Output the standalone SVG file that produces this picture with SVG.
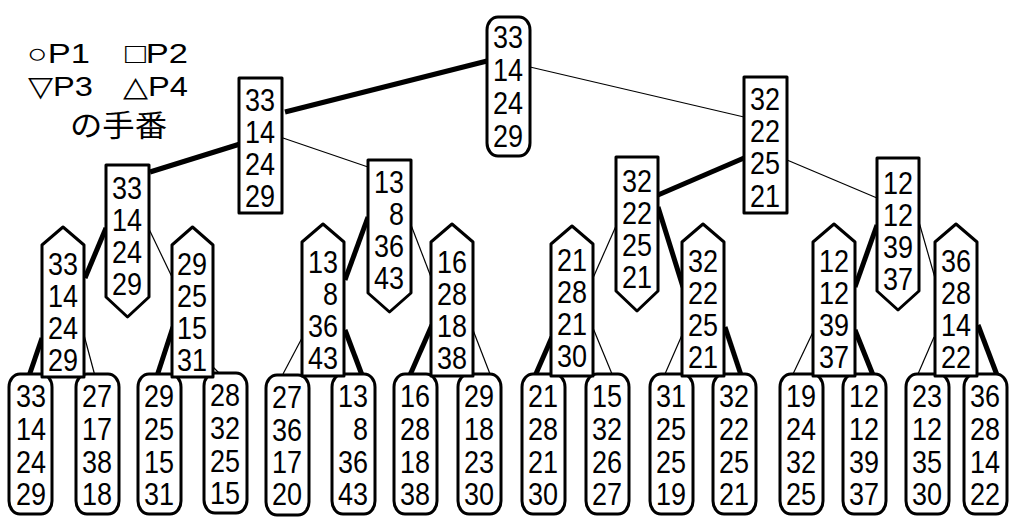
<svg xmlns="http://www.w3.org/2000/svg" width="1011" height="529" viewBox="0 0 1011 529">
<style>
.n{fill:#fff;stroke:#000;stroke-width:3;stroke-linejoin:round}
.t{font-family:"Liberation Sans","Noto Sans CJK JP",sans-serif;font-size:31px;fill:#000;text-anchor:end}
.lg{font-family:"Liberation Sans","DejaVu Sans","Noto Sans CJK JP",sans-serif;font-size:28px;fill:#000}
.thick{stroke:#000;stroke-width:5;fill:none}
.thin{stroke:#000;stroke-width:1.2;fill:none}
</style>
<rect width="1011" height="529" fill="#fff"/>
<g id="legend">
<text class="lg" x="27" y="63" textLength="63" lengthAdjust="spacingAndGlyphs">○P1</text>
<text class="lg" x="125" y="63" textLength="63" lengthAdjust="spacingAndGlyphs">□P2</text>
<text class="lg" x="28" y="96" textLength="65" lengthAdjust="spacingAndGlyphs">▽P3</text>
<text class="lg" x="123" y="96" textLength="65" lengthAdjust="spacingAndGlyphs">△P4</text>
<text class="lg" x="70" y="136" textLength="97" lengthAdjust="spacingAndGlyphs" style="font-size:30px">の手番</text>
</g>
<g id="connectors">
<line class="thick" x1="285" y1="112" x2="487" y2="61"/>
<line class="thick" x1="240" y1="144" x2="150" y2="172"/>
<line class="thick" x1="744" y1="158" x2="658" y2="195"/>
<line class="thick" x1="106" y1="228" x2="85" y2="278"/>
<line class="thick" x1="368" y1="217" x2="345" y2="280"/>
<line class="thick" x1="658" y1="207" x2="683" y2="287"/>
<line class="thick" x1="877" y1="225" x2="855" y2="287"/>
<line class="thick" x1="42" y1="338" x2="29" y2="376"/>
<line class="thick" x1="173" y1="327" x2="157" y2="376"/>
<line class="thick" x1="345" y1="330" x2="362" y2="375"/>
<line class="thick" x1="432" y1="325" x2="410" y2="375"/>
<line class="thick" x1="552" y1="337" x2="535" y2="376"/>
<line class="thick" x1="725" y1="327" x2="741" y2="375"/>
<line class="thick" x1="855" y1="330" x2="873" y2="375"/>
<line class="thick" x1="978" y1="325" x2="997" y2="375"/>
<line class="thin" x1="530" y1="67" x2="744" y2="117"/>
<line class="thin" x1="283" y1="138" x2="368" y2="167"/>
<line class="thin" x1="787" y1="160" x2="877" y2="198"/>
<line class="thin" x1="148" y1="227" x2="172" y2="277"/>
<line class="thin" x1="411" y1="225" x2="431" y2="277"/>
<line class="thin" x1="616" y1="226" x2="593" y2="278"/>
<line class="thin" x1="919" y1="222" x2="935" y2="278"/>
<line class="thin" x1="84" y1="335" x2="95" y2="376"/>
<line class="thin" x1="212" y1="366" x2="222" y2="376"/>
<line class="thin" x1="302" y1="338" x2="283" y2="374"/>
<line class="thin" x1="473" y1="330" x2="490" y2="374"/>
<line class="thin" x1="593" y1="328" x2="612" y2="374"/>
<line class="thin" x1="682" y1="335" x2="665" y2="374"/>
<line class="thin" x1="813" y1="332" x2="793" y2="374"/>
<line class="thin" x1="934" y1="337" x2="918" y2="374"/>
</g>
<g id="root">
<rect class="n" x="487" y="17" width="43" height="139" rx="11" ry="13"/>
<text class="t" x="523" y="48" textLength="30" lengthAdjust="spacingAndGlyphs">33</text>
<text class="t" x="523" y="81" textLength="30" lengthAdjust="spacingAndGlyphs">14</text>
<text class="t" x="523" y="114" textLength="30" lengthAdjust="spacingAndGlyphs">24</text>
<text class="t" x="523" y="147" textLength="30" lengthAdjust="spacingAndGlyphs">29</text>
</g>
<g id="n1L">
<rect class="n" x="239" y="78" width="43" height="135"/>
<text class="t" x="275" y="111" textLength="30" lengthAdjust="spacingAndGlyphs">33</text>
<text class="t" x="275" y="143" textLength="30" lengthAdjust="spacingAndGlyphs">14</text>
<text class="t" x="275" y="175" textLength="30" lengthAdjust="spacingAndGlyphs">24</text>
<text class="t" x="275" y="207" textLength="30" lengthAdjust="spacingAndGlyphs">29</text>
</g>
<g id="n1R">
<rect class="n" x="744" y="77" width="43" height="136"/>
<text class="t" x="780" y="110" textLength="30" lengthAdjust="spacingAndGlyphs">32</text>
<text class="t" x="780" y="142" textLength="30" lengthAdjust="spacingAndGlyphs">22</text>
<text class="t" x="780" y="174" textLength="30" lengthAdjust="spacingAndGlyphs">25</text>
<text class="t" x="780" y="207" textLength="30" lengthAdjust="spacingAndGlyphs">21</text>
</g>
<g id="n2A">
<polygon class="n" points="106,165 149,165 149,297 127.5,317 106,297"/>
<text class="t" x="142" y="199" textLength="30" lengthAdjust="spacingAndGlyphs">33</text>
<text class="t" x="142" y="231" textLength="30" lengthAdjust="spacingAndGlyphs">14</text>
<text class="t" x="142" y="263" textLength="30" lengthAdjust="spacingAndGlyphs">24</text>
<text class="t" x="142" y="295" textLength="30" lengthAdjust="spacingAndGlyphs">29</text>
</g>
<g id="n2B">
<polygon class="n" points="368,160 411,160 411,293 389.5,312 368,293"/>
<text class="t" x="404" y="193" textLength="30" lengthAdjust="spacingAndGlyphs">13</text>
<text class="t" x="404" y="225" textLength="15" lengthAdjust="spacingAndGlyphs">8</text>
<text class="t" x="404" y="257" textLength="30" lengthAdjust="spacingAndGlyphs">36</text>
<text class="t" x="404" y="289" textLength="30" lengthAdjust="spacingAndGlyphs">43</text>
</g>
<g id="n2C">
<polygon class="n" points="616,157 658,157 658,291 637,311 616,291"/>
<text class="t" x="652" y="192" textLength="30" lengthAdjust="spacingAndGlyphs">32</text>
<text class="t" x="652" y="224" textLength="30" lengthAdjust="spacingAndGlyphs">22</text>
<text class="t" x="652" y="256" textLength="30" lengthAdjust="spacingAndGlyphs">25</text>
<text class="t" x="652" y="288" textLength="30" lengthAdjust="spacingAndGlyphs">21</text>
</g>
<g id="n2D">
<polygon class="n" points="877,158 919,158 919,291 898,310 877,291"/>
<text class="t" x="913" y="194" textLength="30" lengthAdjust="spacingAndGlyphs">12</text>
<text class="t" x="913" y="226" textLength="30" lengthAdjust="spacingAndGlyphs">12</text>
<text class="t" x="913" y="258" textLength="30" lengthAdjust="spacingAndGlyphs">39</text>
<text class="t" x="913" y="290" textLength="30" lengthAdjust="spacingAndGlyphs">37</text>
</g>
<g id="leaves">
<g id="leaf1"><rect class="n" x="9" y="374" width="43" height="140" rx="11" ry="13"/>
<text class="t" x="46" y="407" textLength="30" lengthAdjust="spacingAndGlyphs">33</text><text class="t" x="46" y="440" textLength="30" lengthAdjust="spacingAndGlyphs">14</text><text class="t" x="46" y="473" textLength="30" lengthAdjust="spacingAndGlyphs">24</text><text class="t" x="46" y="505" textLength="30" lengthAdjust="spacingAndGlyphs">29</text></g>
<g id="leaf2"><rect class="n" x="76" y="374" width="43" height="140" rx="11" ry="13"/>
<text class="t" x="112" y="407" textLength="30" lengthAdjust="spacingAndGlyphs">27</text><text class="t" x="112" y="440" textLength="30" lengthAdjust="spacingAndGlyphs">17</text><text class="t" x="112" y="473" textLength="30" lengthAdjust="spacingAndGlyphs">38</text><text class="t" x="112" y="505" textLength="30" lengthAdjust="spacingAndGlyphs">18</text></g>
<g id="leaf3"><rect class="n" x="138" y="374" width="43" height="140" rx="11" ry="13"/>
<text class="t" x="174" y="407" textLength="30" lengthAdjust="spacingAndGlyphs">29</text><text class="t" x="174" y="440" textLength="30" lengthAdjust="spacingAndGlyphs">25</text><text class="t" x="174" y="473" textLength="30" lengthAdjust="spacingAndGlyphs">15</text><text class="t" x="174" y="505" textLength="30" lengthAdjust="spacingAndGlyphs">31</text></g>
<g id="leaf4"><rect class="n" x="204" y="373" width="43" height="140" rx="11" ry="13"/>
<text class="t" x="240" y="406" textLength="30" lengthAdjust="spacingAndGlyphs">28</text><text class="t" x="240" y="439" textLength="30" lengthAdjust="spacingAndGlyphs">32</text><text class="t" x="240" y="472" textLength="30" lengthAdjust="spacingAndGlyphs">25</text><text class="t" x="240" y="504" textLength="30" lengthAdjust="spacingAndGlyphs">15</text></g>
<g id="leaf5"><rect class="n" x="266" y="375" width="43" height="140" rx="11" ry="13"/>
<text class="t" x="302" y="408" textLength="30" lengthAdjust="spacingAndGlyphs">27</text><text class="t" x="302" y="441" textLength="30" lengthAdjust="spacingAndGlyphs">36</text><text class="t" x="302" y="473" textLength="30" lengthAdjust="spacingAndGlyphs">17</text><text class="t" x="302" y="505" textLength="30" lengthAdjust="spacingAndGlyphs">20</text></g>
<g id="leaf6"><rect class="n" x="332" y="374" width="43" height="140" rx="11" ry="13"/>
<text class="t" x="368" y="407" textLength="30" lengthAdjust="spacingAndGlyphs">13</text><text class="t" x="368" y="440" textLength="15" lengthAdjust="spacingAndGlyphs">8</text><text class="t" x="368" y="473" textLength="30" lengthAdjust="spacingAndGlyphs">36</text><text class="t" x="368" y="505" textLength="30" lengthAdjust="spacingAndGlyphs">43</text></g>
<g id="leaf7"><rect class="n" x="394" y="374" width="43" height="140" rx="11" ry="13"/>
<text class="t" x="430" y="407" textLength="30" lengthAdjust="spacingAndGlyphs">16</text><text class="t" x="430" y="440" textLength="30" lengthAdjust="spacingAndGlyphs">28</text><text class="t" x="430" y="473" textLength="30" lengthAdjust="spacingAndGlyphs">18</text><text class="t" x="430" y="505" textLength="30" lengthAdjust="spacingAndGlyphs">38</text></g>
<g id="leaf8"><rect class="n" x="458" y="374" width="43" height="140" rx="11" ry="13"/>
<text class="t" x="494" y="407" textLength="30" lengthAdjust="spacingAndGlyphs">29</text><text class="t" x="494" y="440" textLength="30" lengthAdjust="spacingAndGlyphs">18</text><text class="t" x="494" y="473" textLength="30" lengthAdjust="spacingAndGlyphs">23</text><text class="t" x="494" y="505" textLength="30" lengthAdjust="spacingAndGlyphs">30</text></g>
<g id="leaf9"><rect class="n" x="522" y="374" width="43" height="140" rx="11" ry="13"/>
<text class="t" x="558" y="407" textLength="30" lengthAdjust="spacingAndGlyphs">21</text><text class="t" x="558" y="440" textLength="30" lengthAdjust="spacingAndGlyphs">28</text><text class="t" x="558" y="473" textLength="30" lengthAdjust="spacingAndGlyphs">21</text><text class="t" x="558" y="505" textLength="30" lengthAdjust="spacingAndGlyphs">30</text></g>
<g id="leaf10"><rect class="n" x="586" y="374" width="43" height="140" rx="11" ry="13"/>
<text class="t" x="622" y="407" textLength="30" lengthAdjust="spacingAndGlyphs">15</text><text class="t" x="622" y="440" textLength="30" lengthAdjust="spacingAndGlyphs">32</text><text class="t" x="622" y="473" textLength="30" lengthAdjust="spacingAndGlyphs">26</text><text class="t" x="622" y="505" textLength="30" lengthAdjust="spacingAndGlyphs">27</text></g>
<g id="leaf11"><rect class="n" x="650" y="374" width="43" height="140" rx="11" ry="13"/>
<text class="t" x="686" y="407" textLength="30" lengthAdjust="spacingAndGlyphs">31</text><text class="t" x="686" y="440" textLength="30" lengthAdjust="spacingAndGlyphs">25</text><text class="t" x="686" y="473" textLength="30" lengthAdjust="spacingAndGlyphs">25</text><text class="t" x="686" y="505" textLength="30" lengthAdjust="spacingAndGlyphs">19</text></g>
<g id="leaf12"><rect class="n" x="713" y="374" width="43" height="140" rx="11" ry="13"/>
<text class="t" x="749" y="407" textLength="30" lengthAdjust="spacingAndGlyphs">32</text><text class="t" x="749" y="440" textLength="30" lengthAdjust="spacingAndGlyphs">22</text><text class="t" x="749" y="473" textLength="30" lengthAdjust="spacingAndGlyphs">25</text><text class="t" x="749" y="505" textLength="30" lengthAdjust="spacingAndGlyphs">21</text></g>
<g id="leaf13"><rect class="n" x="780" y="374" width="43" height="140" rx="11" ry="13"/>
<text class="t" x="816" y="407" textLength="30" lengthAdjust="spacingAndGlyphs">19</text><text class="t" x="816" y="440" textLength="30" lengthAdjust="spacingAndGlyphs">24</text><text class="t" x="816" y="473" textLength="30" lengthAdjust="spacingAndGlyphs">32</text><text class="t" x="816" y="505" textLength="30" lengthAdjust="spacingAndGlyphs">25</text></g>
<g id="leaf14"><rect class="n" x="843" y="374" width="43" height="140" rx="11" ry="13"/>
<text class="t" x="879" y="407" textLength="30" lengthAdjust="spacingAndGlyphs">12</text><text class="t" x="879" y="440" textLength="30" lengthAdjust="spacingAndGlyphs">12</text><text class="t" x="879" y="473" textLength="30" lengthAdjust="spacingAndGlyphs">39</text><text class="t" x="879" y="505" textLength="30" lengthAdjust="spacingAndGlyphs">37</text></g>
<g id="leaf15"><rect class="n" x="906" y="374" width="43" height="140" rx="11" ry="13"/>
<text class="t" x="942" y="407" textLength="30" lengthAdjust="spacingAndGlyphs">23</text><text class="t" x="942" y="440" textLength="30" lengthAdjust="spacingAndGlyphs">12</text><text class="t" x="942" y="473" textLength="30" lengthAdjust="spacingAndGlyphs">35</text><text class="t" x="942" y="505" textLength="30" lengthAdjust="spacingAndGlyphs">30</text></g>
<g id="leaf16"><rect class="n" x="964" y="374" width="43" height="140" rx="11" ry="13"/>
<text class="t" x="1000" y="407" textLength="30" lengthAdjust="spacingAndGlyphs">36</text><text class="t" x="1000" y="440" textLength="30" lengthAdjust="spacingAndGlyphs">28</text><text class="t" x="1000" y="473" textLength="30" lengthAdjust="spacingAndGlyphs">14</text><text class="t" x="1000" y="505" textLength="30" lengthAdjust="spacingAndGlyphs">22</text></g>
</g>
<g id="n3E">
<polygon class="n" points="42,377 42,245 63,227 84,245 84,377"/>
<text class="t" x="78" y="275" textLength="30" lengthAdjust="spacingAndGlyphs">33</text>
<text class="t" x="78" y="307" textLength="30" lengthAdjust="spacingAndGlyphs">14</text>
<text class="t" x="78" y="339" textLength="30" lengthAdjust="spacingAndGlyphs">24</text>
<text class="t" x="78" y="371" textLength="30" lengthAdjust="spacingAndGlyphs">29</text>
</g>
<g id="n3F">
<polygon class="n" points="172,377 172,245 192.5,227 213,245 213,377"/>
<text class="t" x="207" y="275" textLength="30" lengthAdjust="spacingAndGlyphs">29</text>
<text class="t" x="207" y="307" textLength="30" lengthAdjust="spacingAndGlyphs">25</text>
<text class="t" x="207" y="339" textLength="30" lengthAdjust="spacingAndGlyphs">15</text>
<text class="t" x="207" y="371" textLength="30" lengthAdjust="spacingAndGlyphs">31</text>
</g>
<g id="n3G">
<polygon class="n" points="302,376 302,242 323,224 344,242 344,376"/>
<text class="t" x="338" y="273" textLength="30" lengthAdjust="spacingAndGlyphs">13</text>
<text class="t" x="338" y="305" textLength="15" lengthAdjust="spacingAndGlyphs">8</text>
<text class="t" x="338" y="337" textLength="30" lengthAdjust="spacingAndGlyphs">36</text>
<text class="t" x="338" y="369" textLength="30" lengthAdjust="spacingAndGlyphs">43</text>
</g>
<g id="n3H">
<polygon class="n" points="431,376 431,242 452,224 473,242 473,376"/>
<text class="t" x="467" y="273" textLength="30" lengthAdjust="spacingAndGlyphs">16</text>
<text class="t" x="467" y="305" textLength="30" lengthAdjust="spacingAndGlyphs">28</text>
<text class="t" x="467" y="337" textLength="30" lengthAdjust="spacingAndGlyphs">18</text>
<text class="t" x="467" y="369" textLength="30" lengthAdjust="spacingAndGlyphs">38</text>
</g>
<g id="n3I">
<polygon class="n" points="551,376 551,244 572,226 593,244 593,376"/>
<text class="t" x="587" y="271" textLength="30" lengthAdjust="spacingAndGlyphs">21</text>
<text class="t" x="587" y="303" textLength="30" lengthAdjust="spacingAndGlyphs">28</text>
<text class="t" x="587" y="335" textLength="30" lengthAdjust="spacingAndGlyphs">21</text>
<text class="t" x="587" y="367" textLength="30" lengthAdjust="spacingAndGlyphs">30</text>
</g>
<g id="n3J">
<polygon class="n" points="682,376 682,242 703,224 724,242 724,376"/>
<text class="t" x="718" y="272" textLength="30" lengthAdjust="spacingAndGlyphs">32</text>
<text class="t" x="718" y="304" textLength="30" lengthAdjust="spacingAndGlyphs">22</text>
<text class="t" x="718" y="336" textLength="30" lengthAdjust="spacingAndGlyphs">25</text>
<text class="t" x="718" y="368" textLength="30" lengthAdjust="spacingAndGlyphs">21</text>
</g>
<g id="n3K">
<polygon class="n" points="813,376 813,242 834,224 855,242 855,376"/>
<text class="t" x="849" y="272" textLength="30" lengthAdjust="spacingAndGlyphs">12</text>
<text class="t" x="849" y="304" textLength="30" lengthAdjust="spacingAndGlyphs">12</text>
<text class="t" x="849" y="336" textLength="30" lengthAdjust="spacingAndGlyphs">39</text>
<text class="t" x="849" y="368" textLength="30" lengthAdjust="spacingAndGlyphs">37</text>
</g>
<g id="n3L">
<polygon class="n" points="935,376 935,242 956,224 977,242 977,376"/>
<text class="t" x="971" y="272" textLength="30" lengthAdjust="spacingAndGlyphs">36</text>
<text class="t" x="971" y="304" textLength="30" lengthAdjust="spacingAndGlyphs">28</text>
<text class="t" x="971" y="336" textLength="30" lengthAdjust="spacingAndGlyphs">14</text>
<text class="t" x="971" y="368" textLength="30" lengthAdjust="spacingAndGlyphs">22</text>
</g>
</svg>
